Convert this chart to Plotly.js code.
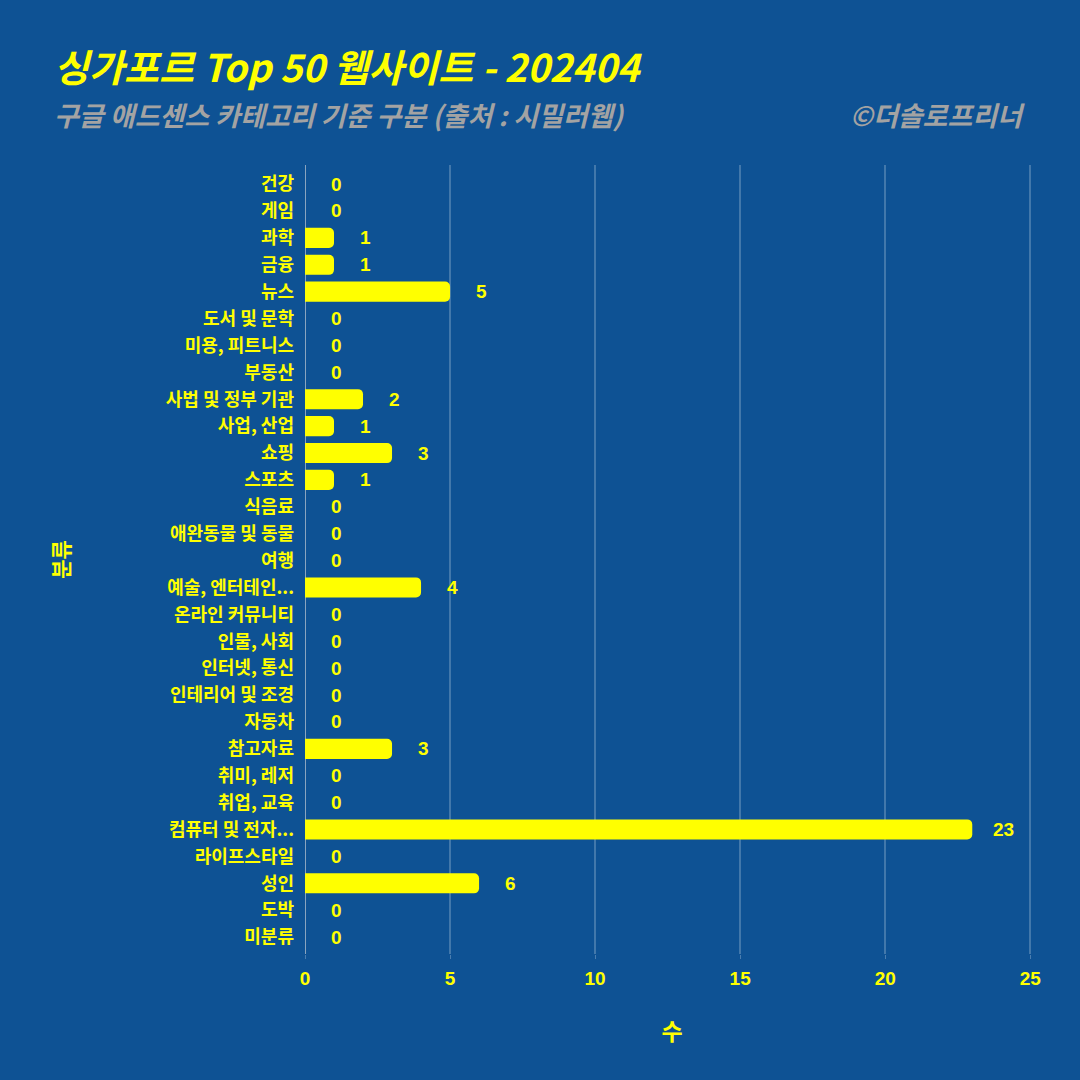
<!DOCTYPE html>
<html>
<head>
<meta charset="utf-8">
<script src="https://cdn.plot.ly/plotly-3.0.1.min.js"></script>
<style>html,body{margin:0;padding:0;background:#0E5294;}</style>
</head>
<body>
<div id="chart" style="width:1080px;height:1080px;"></div>
<script>
const categories = ["건강","게임","과학","금융","뉴스","도서 및 문학","미용, 피트니스","부동산","사법 및 정부 기관","사업, 산업","쇼핑","스포츠","식음료","애완동물 및 동물","여행","예술, 엔터테인...","온라인 커뮤니티","인물, 사회","인터넷, 통신","인테리어 및 조경","자동차","참고자료","취미, 레저","취업, 교육","컴퓨터 및 전자...","라이프스타일","성인","도박","미분류"];
const counts = [0,0,1,1,5,0,0,0,2,1,3,1,0,0,0,4,0,0,0,0,0,3,0,0,23,0,6,0,0];
const xTicks = [0,5,10,15,20,25];
const titleText = "싱가포르 Top 50 웹사이트 - 202404";
const subtitleText = "구글 애드센스 카테고리 기준 구분 (출처 : 시밀러웹)";
const creditText = "©더솔로프리너";
const xTitle = "수";
const yTitle = "분류";

const yellow = "#FFFF00";
const bg = "#0E5294";
const kfont = "'Noto Sans CJK KR', 'Noto Sans', sans-serif";
const nfont = "'Liberation Sans', Arial, sans-serif";

const trace = {
  type: "bar",
  orientation: "h",
  x: counts,
  y: categories,
  marker: {color: yellow, cornerradius: 5, line: {color: yellow, width: 0}},
  hoverinfo: "none",
  showlegend: false
};

const annotations = categories.map((c, i) => ({
  x: counts[i], y: c, xref: "x", yref: "y",
  text: String(counts[i]), showarrow: false,
  xanchor: "center", yanchor: "middle", xshift: 31,
  font: {family: nfont, size: 19, color: yellow, weight: 700}
}));

annotations.push({
  xref: "paper", yref: "paper", x: -0.345, y: 1.1255, xanchor: "left", yanchor: "middle",
  text: "<b><i>" + titleText + "</i></b>", showarrow: false,
  font: {family: kfont, size: 38, color: yellow}
});
annotations.push({
  xref: "paper", yref: "paper", x: -0.345, y: 1.0646, xanchor: "left", yanchor: "middle",
  text: "<b><i>" + subtitleText + "</i></b>", showarrow: false,
  font: {family: kfont, size: 27, color: "#A3A3A3"}
});
annotations.push({
  xref: "paper", yref: "paper", x: 0.983, y: 1.0646, xanchor: "right", yanchor: "middle",
  text: "<b><i>" + creditText + "</i></b>", showarrow: false,
  font: {family: kfont, size: 27, color: "#A3A3A3"}
});

const layout = {
  width: 1080, height: 1080,
  paper_bgcolor: bg, plot_bgcolor: bg,
  margin: {l: 305, r: 41, t: 165, b: 126},
  bargap: 0.25,
  xaxis: {
    range: [0, 25.3],
    tickvals: xTicks,
    ticks: "outside", ticklen: 4, tickcolor: "rgba(255,255,255,0.25)",
    ticklabelstandoff: 3,
    showgrid: true, gridcolor: "rgba(255,255,255,0.22)", gridwidth: 2,
    zeroline: false, showline: false,
    tickfont: {family: nfont, size: 19, color: yellow, weight: 700},
    title: {text: "<b>" + xTitle + "</b>", font: {family: kfont, size: 23, color: yellow}, standoff: 36},
    fixedrange: true
  },
  yaxis: {
    type: "category",
    range: [28.63, -0.71],
    tickvals: categories,
    ticks: "", ticklabelstandoff: 10,
    showgrid: false, zeroline: false,
    showline: false,
    tickfont: {family: kfont, size: 18, color: yellow, weight: 700},
    title: {text: "<b>" + yTitle + "</b>", font: {family: kfont, size: 21, color: yellow}, standoff: 90},
    automargin: false
  },
  shapes: [{
    type: "line", xref: "x", yref: "paper", x0: 0, x1: 0, y0: 0, y1: 1,
    line: {color: "rgba(220,220,220,0.6)", width: 2}, layer: "below"
  }],
  annotations: annotations
};

Plotly.newPlot("chart", [trace], layout, {displayModeBar: false, staticPlot: true});
</script>
</body>
</html>
